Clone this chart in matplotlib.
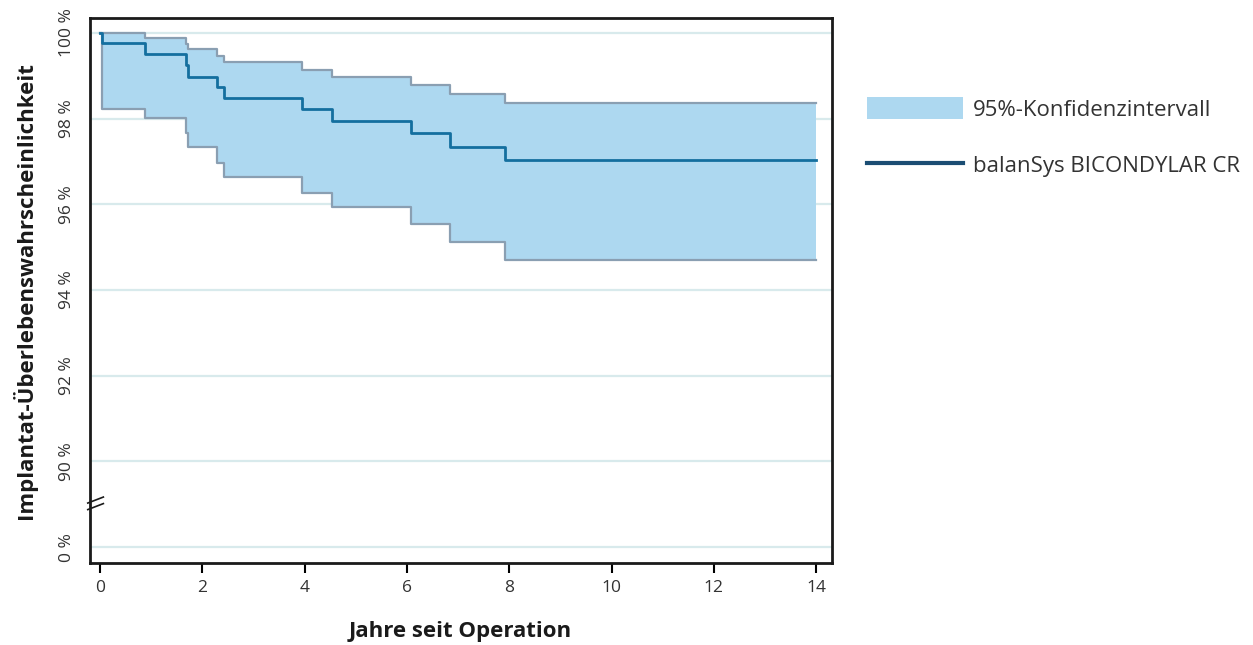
import matplotlib
matplotlib.use('Agg')
import matplotlib.pyplot as plt
from matplotlib.patches import Patch
from matplotlib.lines import Line2D

plt.rcParams['font.family'] = ['Open Sans', 'DejaVu Sans']

# Daten
jahre = [0, 0.03, 0.88, 1.68, 1.72, 2.28, 2.42, 3.94, 4.53, 6.08, 6.84, 7.91, 14]
ueberleben = [100, 99.76, 99.50, 99.25, 98.98, 98.73, 98.48, 98.22, 97.95, 97.66, 97.35, 97.04, 97.04]
ki_oben = [100, 100, 99.89, 99.75, 99.63, 99.47, 99.32, 99.14, 98.97, 98.79, 98.58, 98.36, 98.36]
ki_unten = [100, 98.23, 98.01, 97.66, 97.35, 96.97, 96.65, 96.27, 95.93, 95.54, 95.13, 94.70, 94.70]

y_ticks = [0, 90, 92, 94, 96, 98, 100]
y_labels = ['0 %', '90 %', '92 %', '94 %', '96 %', '98 %', '100 %']
x_ticks = [0, 2, 4, 6, 8, 10, 12, 14]


# Achsenbruch: 0 % wird direkt unter 90 % gezeichnet
def bruch(v):
    return v if v >= 90 else 88


fig = plt.figure(figsize=(12.53, 6.45), dpi=100)
ax = fig.add_axes([90 / 1253, 1 - 563 / 645, 742 / 1253, 545 / 645])

for t in y_ticks:
    ax.axhline(bruch(t), color='#d8eaec', lw=1.6, zorder=0)

ax.fill_between(jahre, ki_unten, ki_oben, step='post', color='#add8f0', lw=0, zorder=1)
ax.step(jahre, ki_oben, where='post', color='#8a9fb2', lw=1.6, zorder=2)
ax.step(jahre, ki_unten, where='post', color='#8a9fb2', lw=1.6, zorder=2)
ax.step(jahre, ueberleben, where='post', color='#146f9f', lw=2, zorder=3)

ax.set_xlim(-0.196, 14.31)
ax.set_ylim(87.63, 100.35)
ax.set_xticks(x_ticks)
ax.set_yticks([bruch(t) for t in y_ticks])
ax.set_yticklabels(y_labels, rotation=90, va='center')
ax.tick_params(axis='y', length=0, pad=11, labelsize=12.5, labelcolor='#333333')
ax.tick_params(axis='x', length=7, width=1.5, labelsize=12.5, labelcolor='#333333', pad=5)
for s in ax.spines.values():
    s.set_linewidth(2)
    s.set_color('#1a1a1a')

# Bruchzeichen an der y-Achse
ax.plot([-0.003, 0.018], [0.110, 0.121], transform=ax.transAxes,
        color='#1a1a1a', lw=1.2, clip_on=False)
ax.plot([-0.003, 0.018], [0.098, 0.109], transform=ax.transAxes,
        color='#1a1a1a', lw=1.2, clip_on=False)

ax.set_xlabel('Jahre seit Operation', fontsize=16, fontweight='bold', color='#1a1a1a')
ax.xaxis.set_label_coords(0.499, -0.106)
ax.set_ylabel('Implantat-Überlebenswahrscheinlichkeit', fontsize=16, fontweight='bold', color='#1a1a1a')
ax.yaxis.set_label_coords(-0.072, 0.5)

handles = [Patch(facecolor='#add8f0', edgecolor='none'),
           Line2D([], [], color='#1b4d73', lw=3)]
fig.legend(handles, ['95%-Konfidenzintervall', 'balanSys BICONDYLAR CR'],
           loc='upper left', bbox_to_anchor=(867 / 1253, 1 - 97 / 645),
           frameon=False, fontsize=16, handlelength=4.3, handleheight=1.15,
           handletextpad=0.45, labelspacing=1.5, borderpad=0, borderaxespad=0,
           labelcolor='#333333')

fig.savefig('out.png', dpi=100)
